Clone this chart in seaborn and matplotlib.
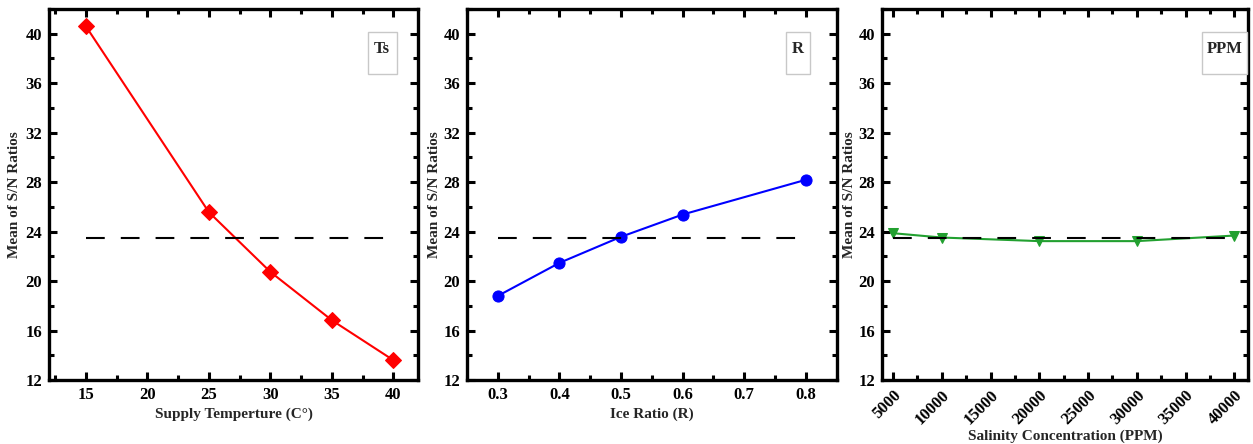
import matplotlib
matplotlib.use("Agg")
import matplotlib.pyplot as plt
import seaborn as sns
import pandas as pd
from matplotlib.ticker import MultipleLocator, FormatStrFormatter
from matplotlib.patches import Rectangle

# ---- data ----
ts_x = [15, 25, 30, 35, 40]
ts_y = [40.6, 25.57, 20.74, 16.83, 13.6]

r_x = [0.3, 0.4, 0.5, 0.6, 0.8]
r_y = [18.8, 21.47, 23.58, 25.38, 28.19]

ppm_x = [5000, 10000, 20000, 30000, 40000]
ppm_y = [23.87, 23.52, 23.23, 23.23, 23.68]

mean_sn = 23.47

panel_tags = ["Ts", "R", "PPM"]
xlabels = ["Supply Temperture (C°)", "Ice Ratio (R)", "Salinity Concentration (PPM)"]
ylabel = "Mean of S/N Ratios"

sns.set_style("ticks")
plt.rcParams["font.family"] = ["Liberation Serif", "DejaVu Serif"]
plt.rcParams["font.weight"] = "bold"
plt.rcParams["axes.labelweight"] = "bold"

fig = plt.figure(figsize=(12.53, 4.44), dpi=100)
W, H = 1253, 444
bottom = (H - 380) / H
height = (380 - 9) / H
axs = [
    fig.add_axes([49 / W, bottom, (418 - 49) / W, height]),
    fig.add_axes([467 / W, bottom, (836.7 - 467) / W, height]),
    fig.add_axes([882.3 / W, bottom, (1248 - 882.3) / W, height]),
]

specs = [
    dict(x=ts_x, y=ts_y, color="#ff0000", marker="D", ms=8, xlim=(12, 42), major=5, minor=2.5,
         box=(367.7, 396.7), ylab_x=21, xfmt="%d"),
    dict(x=r_x, y=r_y, color="#0000ff", marker="o", ms=8, xlim=(0.25, 0.85), major=0.1, minor=0.05,
         box=(786.3, 810), ylab_x=441, xfmt="%.1f"),
    dict(x=ppm_x, y=ppm_y, color="#22a030", marker="v", ms=6.5, xlim=(3900, 41400), major=5000, minor=2500,
         box=(1202, 1247.3), ylab_x=856, xfmt="%d"),
]

for i, (ax, s) in enumerate(zip(axs, specs)):
    df = pd.DataFrame({"x": s["x"], "y": s["y"]})
    sns.lineplot(data=df, x="x", y="y", ax=ax, color=s["color"], marker=s["marker"],
                 markersize=s["ms"], markeredgecolor=s["color"], linewidth=1.5)
    ax.plot([s["x"][0], s["x"][-1]], [mean_sn, mean_sn], color="black", linewidth=1.5,
            dashes=(9, 7.7))
    ax.set_xlim(*s["xlim"])
    ax.set_ylim(12, 42)
    ax.yaxis.set_major_locator(MultipleLocator(4))
    ax.yaxis.set_minor_locator(MultipleLocator(2))
    ax.xaxis.set_major_locator(MultipleLocator(s["major"]))
    ax.xaxis.set_minor_locator(MultipleLocator(s["minor"]))
    ax.xaxis.set_major_formatter(FormatStrFormatter(s["xfmt"]))
    ax.tick_params(which="both", direction="in", top=True, right=True, width=2.2, colors="black")
    ax.tick_params(which="major", length=5.5, labelsize=12, pad=5)
    ax.tick_params(which="minor", length=3.5)
    for sp in ax.spines.values():
        sp.set_linewidth(2.4)
        sp.set_color("black")
    ax.set_xlabel(xlabels[i], fontsize=11, fontweight="bold", labelpad=3)
    ax.set_ylabel(ylabel, fontsize=11, fontweight="bold")
    pos = ax.get_position()
    ax.yaxis.set_label_coords((s["ylab_x"] / W - pos.x0) / pos.width, 0.5)
    for lab in ax.get_xticklabels() + ax.get_yticklabels():
        lab.set_fontweight("bold")
    if i == 2:
        plt.setp(ax.get_xticklabels(), rotation=45, ha="right", rotation_mode="anchor")
        ax.tick_params(axis="x", which="major", pad=5)
        ax.set_xlabel(xlabels[i], fontsize=11, fontweight="bold", labelpad=1.5)
    # tag box
    x0, x1 = s["box"]
    rect = Rectangle((x0 / W, (H - 74) / H), (x1 - x0) / W, (74 - 32) / H,
                     transform=fig.transFigure, facecolor="white", edgecolor="#c8c8c8",
                     linewidth=1.0, zorder=5)
    fig.add_artist(rect)
    fig.text((x0 + x1) / 2 / W, (H - 49) / H, panel_tags[i], ha="center", va="center",
             fontsize=12, fontweight="bold", zorder=6)

fig.savefig("out.png", dpi=100)
